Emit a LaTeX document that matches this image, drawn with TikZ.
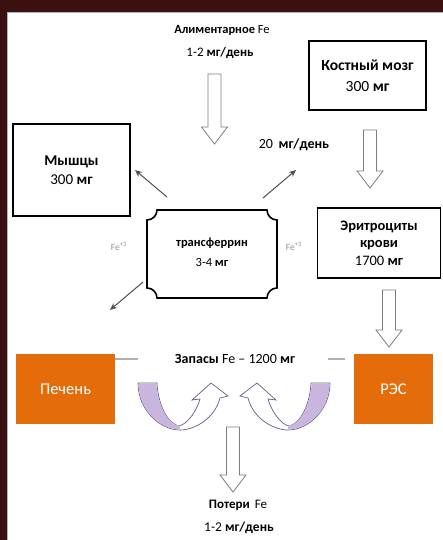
\documentclass[tikz,border=0pt]{standalone}
\usepackage{fontspec}
\setmainfont{Carlito}
\usetikzlibrary{calc,arrows.meta}
\definecolor{frame}{RGB}{58,16,16}
\definecolor{orng}{HTML}{E46C0A}
\definecolor{purp}{RGB}{200,182,222}
\definecolor{purpline}{RGB}{110,90,135}
\definecolor{agray}{RGB}{125,125,125}
\definecolor{tgray}{RGB}{80,80,80}
\definecolor{fegray}{RGB}{150,150,150}
\definecolor{dgray}{RGB}{175,175,175}
\tikzset{
  box/.style={draw=black, line width=1.6pt, fill=white, align=center, inner sep=2pt},
  orbox/.style={fill=orng, text=white, minimum width=#1, minimum height=70pt, font=\fontsize{16.5}{20}\selectfont},
  lbl/.style={align=center, inner sep=1pt},
  hollow/.style={draw=agray, fill=white, line width=0.8pt,
    to path={let \p1=(\tikztostart), \p2=(\tikztotarget) in
      (\x1-6.5pt,\y1) -- (\x1+6.5pt,\y1) -- (\x1+6.5pt,\y2+17pt) -- (\x1+13pt,\y2+17pt)
      -- (\x1,\y2) -- (\x1-13pt,\y2+17pt) -- (\x1-6.5pt,\y2+17pt) -- cycle}},
  thinarr/.style={draw=tgray, line width=1pt, -{Stealth[length=7pt,width=6pt]}},
  fe/.style={text=fegray, font=\fontsize{9.5}{11}\selectfont, inner sep=0pt},
  greydash/.style={draw=dgray, line width=2pt}
}
\begin{document}
\begin{tikzpicture}[x=1pt,y=-1pt]
\useasboundingbox (0,0) rectangle (443,540);
\fill[frame] (0,0) rectangle (443,540);
\fill[white] (7,12) rectangle (443,540);
\draw[gray!60, line width=1pt] (7.5,12) -- (7.5,540);
\draw[gray!60, line width=0.8pt] (7,12.5) -- (443,12.5);

% text labels
\node[lbl, font=\fontsize{12.5}{14}\selectfont] (alim) at (222,30) {\textbf{Алиментарное} Fe};
\node[lbl, font=\fontsize{13}{14}\selectfont] (alimd) at (220,53) {1-2 \textbf{мг/день}};
\coordinate (a1s) at (214.5,74);
\coordinate (a1e) at (214.5,144);
\draw[hollow] (a1s) to (a1e);

% boxes
\node[box, minimum width=117pt, minimum height=69pt, font=\fontsize{15.5}{21}\selectfont] (kost) at (367.5,75.5) {\textbf{Костный мозг}\\300 \textbf{мг}};
\node[box, minimum width=117pt, minimum height=92pt, font=\fontsize{15}{19}\selectfont] (mysh) at (71.5,170) {\textbf{Мышцы}\\300 \textbf{мг}};
\node[box, minimum width=123pt, minimum height=70pt, font=\fontsize{14.5}{17.5}\selectfont] (erit) at (379,243) {\textbf{Эритроциты}\\\textbf{крови}\\1700 \textbf{мг}};

% transferrin
\draw[line width=1.6pt, fill=white] (157,210) -- (267,210) arc[start angle=180,end angle=90,radius=10]
  -- (277,288) arc[start angle=270,end angle=180,radius=10]
  -- (157,298) arc[start angle=0,end angle=-90,radius=10]
  -- (147,220) arc[start angle=90,end angle=0,radius=10] -- cycle;
\node[lbl, font=\fontsize{12.5}{20}\selectfont] (tr) at (212,252) {\textbf{трансферрин}\\3-4 \textbf{мг}};

\node[lbl, font=\fontsize{14}{16}\selectfont] (d20) at (294,145) {20 \,\textbf{мг/день}};

\coordinate (k2s) at (370,130);
\coordinate (k2e) at (370,188);
\draw[hollow] (k2s) to (k2e);

% thin arrows
\coordinate (t1) at (167,197); \coordinate (m1) at (135,170);
\draw[thinarr] (t1) -- (m1);
\coordinate (t2) at (263,198); \coordinate (m2) at (296,170);
\draw[thinarr] (t2) -- (m2);
\coordinate (t3) at (143,282); \coordinate (m3) at (110,310);
\draw[thinarr] (t3) -- (m3);

\node[fe] (feL) at (119,246) {Fe\textsuperscript{+3}};
\node[fe] (feR) at (294,246) {Fe\textsuperscript{+3}};

\coordinate (e2s) at (389,290);
\coordinate (e2e) at (389,347);
\draw[hollow] (e2s) to (e2e);

% liver / RES
\node[orbox=99pt] (pech) at (65.5,389) {Печень};
\node[orbox=79pt] (res) at (393.5,389) {РЭС};
\draw[greydash] (115,359) -- (138,359);
\draw[greydash] (328,359) -- (345,359);
\node[lbl, font=\fontsize{14}{16}\selectfont] (zap) at (235,359) {\textbf{Запасы} Fe – 1200 \textbf{мг}};

% U arrows
\foreach \sh/\sc in {0/1, 468/-1}{
\begin{scope}[shift={(\sh,0)}, xscale=\sc]
\draw[purpline, line width=0.7pt, fill=white] (138,383) -- (157,383)
  .. controls (158,405) and (168,424) .. (179,426)
  .. controls (188,424) and (197,410) .. (200,399)
  -- (192,400) -- (211,383) -- (228,396) -- (220,398)
  .. controls (215,418) and (195,430) .. (180,430)
  .. controls (160,430) and (138,410) .. (138,383) -- cycle;
\fill[purp] (138.6,383.6) -- (156.4,383.6) .. controls (157.4,405) and (168,424.4) .. (179,425.6)
  .. controls (180,427) and (180,428.5) .. (180,429.4)
  .. controls (160,429.4) and (138.6,410) .. (138.6,383.6) -- cycle;
\end{scope}}

\coordinate (zs) at (233,427);
\coordinate (ze) at (233,492);
\draw[hollow] (zs) to (ze);

\node[lbl, font=\fontsize{13}{14}\selectfont] (pot) at (238,505) {\textbf{Потери} \,Fe};
\node[lbl, font=\fontsize{13.5}{14}\selectfont] (potd) at (239,528) {1-2 \textbf{мг/день}};
\end{tikzpicture}
\end{document}
